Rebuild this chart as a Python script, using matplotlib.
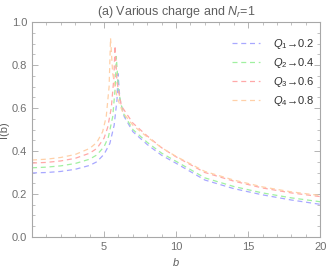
import matplotlib
matplotlib.use("Agg")
import matplotlib.pyplot as plt
from matplotlib.ticker import MultipleLocator

plt.rcParams["font.family"] = ["Liberation Sans", "DejaVu Sans"]
plt.rcParams["mathtext.fontset"] = "custom"
plt.rcParams["mathtext.it"] = "Liberation Sans:italic"
plt.rcParams["mathtext.rm"] = "Liberation Sans"

# values, one b-list / I-list per charge
b_q1 = [0, 1, 2, 3, 4, 4.5, 5, 5.4, 5.7, 5.9, 5.97, 6.1, 6.4, 7, 8, 9, 10, 12, 14, 16, 18, 20]
i_q1 = [0.298, 0.300, 0.305, 0.315, 0.333, 0.350, 0.385, 0.435, 0.52, 0.64, 0.76, 0.64, 0.56, 0.49, 0.43, 0.38, 0.343, 0.265, 0.225, 0.196, 0.172, 0.152]
b_q2 = [0, 1, 2, 3, 4, 4.5, 5, 5.3, 5.6, 5.78, 5.85, 6.0, 6.3, 7, 8, 9, 10, 12, 14, 16, 18, 20]
i_q2 = [0.322, 0.325, 0.331, 0.342, 0.362, 0.382, 0.42, 0.465, 0.56, 0.70, 0.84, 0.68, 0.58, 0.50, 0.44, 0.39, 0.352, 0.275, 0.235, 0.205, 0.182, 0.164]
b_q3 = [0, 1, 2, 3, 4, 4.5, 5, 5.25, 5.5, 5.68, 5.76, 5.9, 6.2, 7, 8, 9, 10, 12, 14, 16, 18, 20]
i_q3 = [0.344, 0.347, 0.354, 0.366, 0.390, 0.412, 0.46, 0.51, 0.60, 0.74, 0.89, 0.72, 0.61, 0.53, 0.47, 0.415, 0.373, 0.30, 0.26, 0.228, 0.205, 0.188]
b_q4 = [0, 1, 2, 3, 4, 4.5, 4.9, 5.15, 5.35, 5.45, 5.6, 5.9, 6.3, 7, 8, 9, 10, 12, 14, 16, 18, 20]
i_q4 = [0.358, 0.362, 0.370, 0.384, 0.412, 0.440, 0.49, 0.56, 0.70, 0.925, 0.76, 0.65, 0.58, 0.52, 0.465, 0.415, 0.375, 0.305, 0.265, 0.233, 0.21, 0.193]

labels = [r"$Q_1$→0.2", r"$Q_2$→0.4", r"$Q_3$→0.6", r"$Q_4$→0.8"]
colors = ["#a8a8ff", "#a0f0a0", "#ffa8a8", "#ffd0a8"]
series = [(b_q1, i_q1), (b_q2, i_q2), (b_q3, i_q3), (b_q4, i_q4)]

fig = plt.figure(figsize=(3.27, 2.73), dpi=100)
ax = fig.add_axes([0.098, 0.132, 0.881, 0.787])

for (b, y), c, lab in zip(series, colors, labels):
    ax.plot(b, y, color=c, lw=0.9, ls=(0, (4, 3)), label=lab)

ax.set_xlim(0, 20)
ax.set_ylim(0, 1.0)
ax.xaxis.set_major_locator(MultipleLocator(5))
ax.xaxis.set_minor_locator(MultipleLocator(1))
ax.yaxis.set_major_locator(MultipleLocator(0.2))
ax.yaxis.set_minor_locator(MultipleLocator(0.05))
ax.set_xticks([5, 10, 15, 20])
ax.yaxis.set_major_formatter(matplotlib.ticker.FormatStrFormatter("%.1f"))

for s in ax.spines.values():
    s.set_color("#a8a8a8")
    s.set_linewidth(0.8)
ax.tick_params(which="both", direction="in", top=True, right=True, colors="#a8a8a8",
               labelcolor="#707070", labelsize=8)
ax.tick_params(which="major", length=4, width=0.6)
ax.tick_params(which="minor", length=2, width=0.5)

ax.set_title(r"(a) Various charge and $N_r$=1", fontsize=9, color="#606060", pad=5)
ax.set_ylabel("I(b)", fontsize=8, color="#606060")
ax.yaxis.set_label_coords(-0.08, 0.5)
ax.set_xlabel(r"$b$", fontsize=8, color="#606060", labelpad=3)

leg = ax.legend(loc="upper right", bbox_to_anchor=(1.0, 0.955), frameon=False, fontsize=8,
                handlelength=2.5, handletextpad=1.2, labelspacing=0.45, borderaxespad=0.1,
                labelcolor="#303030")

plt.savefig("out.png", dpi=100)
